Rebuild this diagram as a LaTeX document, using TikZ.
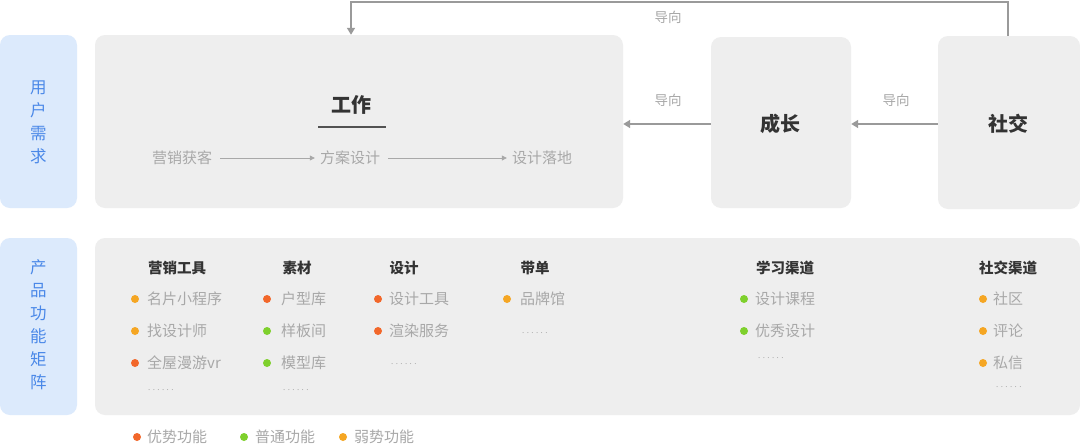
\documentclass[tikz,border=0pt]{standalone}
\usepackage{fontspec}
\setmainfont{Noto Sans CJK SC}
\usetikzlibrary{arrows.meta,calc}
\definecolor{bluebox}{HTML}{DCEAFC}
\definecolor{bluetext}{HTML}{4A88E8}
\definecolor{graybox}{HTML}{EEEEEE}
\definecolor{connc}{HTML}{9A9A9A}
\definecolor{darkt}{HTML}{333333}
\definecolor{lightt}{HTML}{A8A8A8}
\definecolor{cred}{HTML}{F2672A}
\definecolor{cgreen}{HTML}{7ED02C}
\definecolor{cyellow}{HTML}{F5A623}
\newcommand{\sixdots}{.\hspace{2.4pt}.\hspace{2.4pt}.\hspace{2.4pt}.\hspace{2.4pt}.\hspace{2.4pt}.}
\tikzset{
  panel/.style={rectangle, rounded corners=10pt, fill=graybox, inner sep=0pt},
  sidebox/.style={rectangle, rounded corners=10pt, fill=bluebox, inner sep=0pt, minimum width=77pt},
  sidetext/.style={text=bluetext, font=\fontsize{16.5}{23}\selectfont, align=center, inner sep=0pt},
  bigtitle/.style={text=darkt, font=\fontsize{20}{22}\selectfont\bfseries, inner sep=0pt},
  conn/.style={draw=connc, line width=1.5pt, -{Triangle[width=8pt,length=7pt]}},
  flowarrow/.style={draw=lightt, line width=0.8pt, -{Triangle[width=5pt,length=5pt]}},
  guide/.style={text=lightt, font=\fontsize{13.5}{15}\selectfont, inner sep=0pt},
  flowtext/.style={text=lightt, font=\fontsize{15}{17}\selectfont, inner sep=0pt},
  colhead/.style={text=darkt, font=\fontsize{14.5}{16}\selectfont\bfseries, inner sep=0pt},
  item/.style={text=lightt, font=\fontsize{15}{17}\selectfont, inner sep=0pt, anchor=west},
  more/.style={text=lightt, font=\fontsize{8}{10}\selectfont, inner sep=0pt, anchor=west},
  dot/.style={circle, inner sep=0pt, minimum size=8pt},
}
\begin{document}
\begin{tikzpicture}[x=1pt,y=-1pt]
\useasboundingbox[fill=white] (0,0) rectangle (1080,445);

% ---- top row ----
\node[sidebox, minimum height=173pt] (need) at (38.5,121.5) {};
\node[sidetext] (needt) at (38.5,122) {用\\户\\需\\求};

\node[panel, minimum width=528pt, minimum height=173pt] (work) at (359,121.5) {};
\node[bigtitle] (workt) at (351,105) {工作};
\coordinate (ulA) at (318,127);
\coordinate (ulB) at (386,127);
\draw[darkt!85, line width=1.8pt] (ulA) -- (ulB);

\node[flowtext] (f1) at (182,158) {营销获客};
\node[flowtext] (f2) at (350,158) {方案设计};
\node[flowtext] (f3) at (542,158) {设计落地};
\draw[flowarrow] ([xshift=8pt]f1.east) -- ([xshift=-5pt]f2.west);
\draw[flowarrow] ([xshift=8pt]f2.east) -- ([xshift=-5pt]f3.west);

\node[panel, minimum width=140pt, minimum height=171pt] (grow) at (781,122.5) {};
\node[bigtitle] (growt) at (780,124) {成长};

\node[panel, minimum width=142pt, minimum height=173pt] (social) at (1009,122.5) {};
\node[bigtitle] (socialt) at (1008,124) {社交};

\draw[conn] (grow.west |- growt) -- (work.east |- growt);
\draw[conn] (social.west |- socialt) -- (grow.east |- socialt);
\node[guide] (g1) at (668,100) {导向};
\node[guide] (g2) at (896,100) {导向};

\coordinate (topR) at (1008,2);
\coordinate (topL) at (351,2);
\draw[conn] (social.north -| socialt) -- (topR) -- (topL) -- (work.north -| workt);
\node[guide] (g3) at (668,17) {导向};

% ---- bottom row ----
\node[sidebox, minimum height=177pt] (prod) at (38.5,326.5) {};
\node[sidetext] (prodt) at (38.5,325) {产\\品\\功\\能\\矩\\阵};

\node[panel, minimum width=985pt, minimum height=177pt] (matrix) at (587.5,326.5) {};

\node[colhead] (h1) at (177,268) {营销工具};
\node[colhead] (h2) at (297,268) {素材};
\node[colhead] (h3) at (404,268) {设计};
\node[colhead] (h4) at (535,268) {带单};
\node[colhead] (h5) at (785,268) {学习渠道};
\node[colhead] (h6) at (1008,268) {社交渠道};

% column 1
\node[dot, fill=cyellow] (d11) at (135,299) {};
\node[item] (i11) at (147,299) {名片小程序};
\node[dot, fill=cyellow] (d12) at (135,331) {};
\node[item] (i12) at (147,331) {找设计师};
\node[dot, fill=cred] (d13) at (135,363) {};
\node[item] (i13) at (147,363) {全屋漫游vr};
\node[more] (m1) at (148,390) {\sixdots};

% column 2
\node[dot, fill=cred] (d21) at (267,299) {};
\node[item] (i21) at (281,299) {户型库};
\node[dot, fill=cgreen] (d22) at (267,331) {};
\node[item] (i22) at (281,331) {样板间};
\node[dot, fill=cgreen] (d23) at (267,363) {};
\node[item] (i23) at (281,363) {模型库};
\node[more] (m2) at (283,390) {\sixdots};

% column 3
\node[dot, fill=cred] (d31) at (378,299) {};
\node[item] (i31) at (389,299) {设计工具};
\node[dot, fill=cred] (d32) at (378,331) {};
\node[item] (i32) at (389,331) {渲染服务};
\node[more] (m3) at (391,364) {\sixdots};

% column 4
\node[dot, fill=cyellow] (d41) at (507,299) {};
\node[item] (i41) at (520,299) {品牌馆};
\node[more] (m4) at (522,333) {\sixdots};

% column 5
\node[dot, fill=cgreen] (d51) at (744,299) {};
\node[item] (i51) at (755,299) {设计课程};
\node[dot, fill=cgreen] (d52) at (744,331) {};
\node[item] (i52) at (755,331) {优秀设计};
\node[more] (m5) at (758,358) {\sixdots};

% column 6
\node[dot, fill=cyellow] (d61) at (983,299) {};
\node[item] (i61) at (993,299) {社区};
\node[dot, fill=cyellow] (d62) at (983,331) {};
\node[item] (i62) at (993,331) {评论};
\node[dot, fill=cyellow] (d63) at (983,363) {};
\node[item] (i63) at (993,363) {私信};
\node[more] (m6) at (996,387) {\sixdots};

% legend
\node[dot, fill=cred] (l1) at (137,437) {};
\node[item] (lt1) at (147,437) {优势功能};
\node[dot, fill=cgreen] (l2) at (244,437) {};
\node[item] (lt2) at (255,437) {普通功能};
\node[dot, fill=cyellow] (l3) at (343,437) {};
\node[item] (lt3) at (354,437) {弱势功能};
\end{tikzpicture}
\end{document}
